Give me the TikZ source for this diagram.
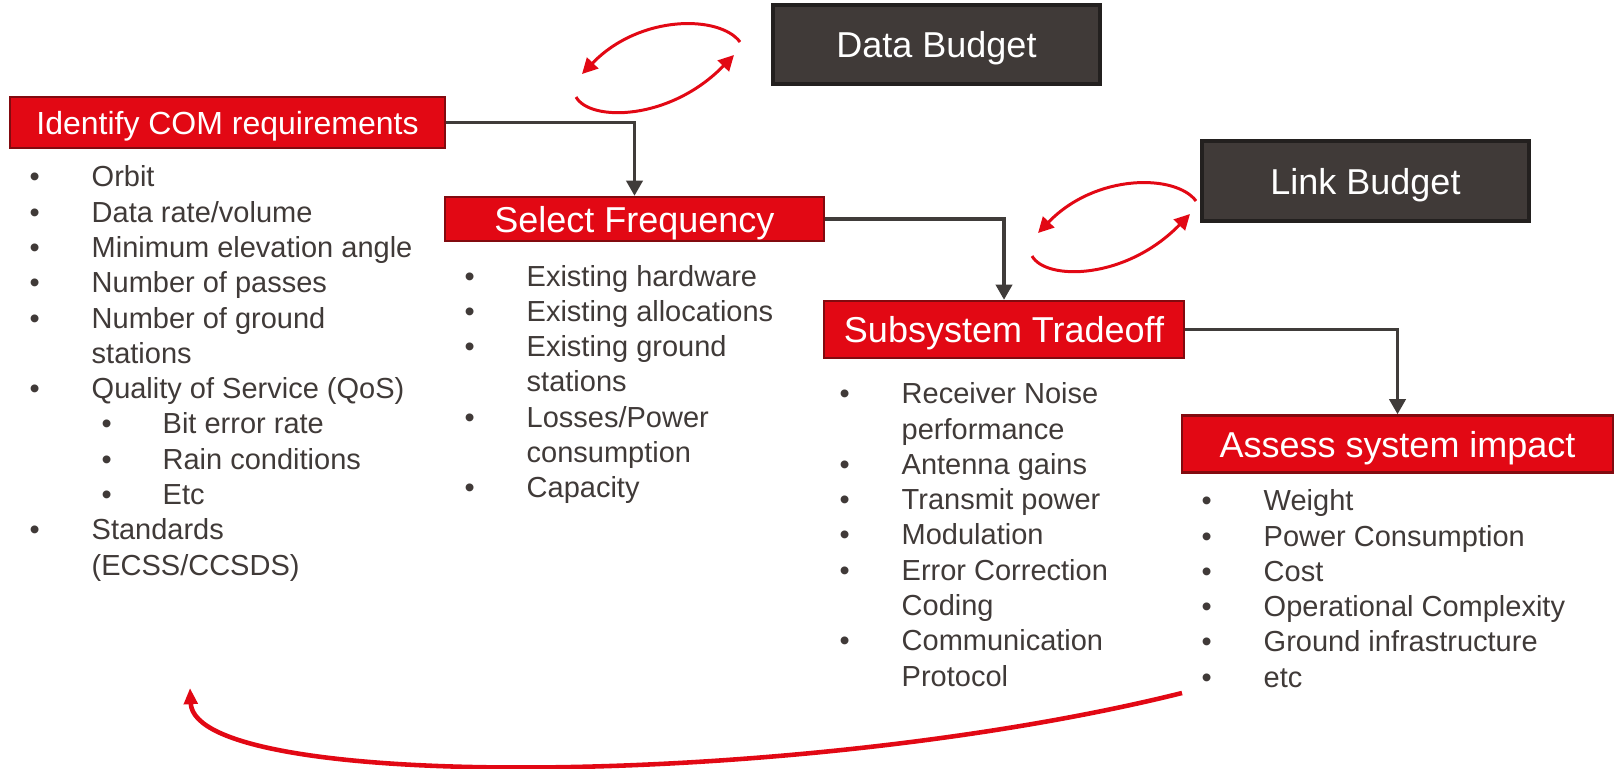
\documentclass[tikz,border=0pt]{standalone}
\usepackage{fontspec}
\setmainfont{Liberation Sans}
\usepackage{tikz}
\usetikzlibrary{arrows.meta}

\definecolor{comred}{RGB}{226,8,20}
\definecolor{darkred}{RGB}{130,10,15}
\definecolor{boxgrey}{RGB}{64,58,56}
\definecolor{boxedge}{RGB}{35,32,31}
\definecolor{txtgrey}{RGB}{64,58,56}
\definecolor{linegrey}{RGB}{64,60,58}

\newcommand{\bul}{\strut\makebox[0.62cm][l]{\textbullet}}
\newcommand{\bulgap}{\strut\hspace*{0.62cm}}
\newcommand{\subbul}{\strut\hspace*{0.72cm}\makebox[0.61cm][l]{\textbullet}}

\begin{document}
\begin{tikzpicture}[
    redbox/.style={draw=darkred, line width=0.7pt, fill=comred, text=white, inner sep=0pt,
        text depth=0pt, font=\fontsize{10.24}{12}\selectfont},
    greybox/.style={draw=boxedge, line width=0.9pt, fill=boxgrey, text=white, inner sep=0pt,
        text depth=0pt, font=\fontsize{10.24}{12}\selectfont},
    itemlist/.style={anchor=north west, inner sep=0pt, align=left, text=txtgrey,
        font=\fontsize{8.25}{10.04}\selectfont},
    flow/.style={draw=linegrey, line width=0.95pt, -{Triangle[length=4.3pt,width=4.6pt]}},
    redarc/.style={draw=comred, line width=0.85pt, -{Triangle[length=4.4pt,width=4.4pt]}}
]
    \useasboundingbox (0,0) rectangle (16.15,-7.68);

    % budget boxes
    \node[greybox, minimum width=3.27cm, minimum height=0.79cm] (data) at (9.365,-0.445) {Data Budget};
    \node[greybox, minimum width=3.27cm, minimum height=0.80cm] (link) at (13.655,-1.81) {Link Budget};

    % steps
    \node[redbox, minimum width=4.35cm, minimum height=0.51cm, font=\fontsize{9.1}{11}\selectfont] (ident) at (2.275,-1.225) {Identify COM requirements};
    \node[redbox, minimum width=3.79cm, minimum height=0.44cm] (sel) at (6.345,-2.19) {Select Frequency};
    \node[redbox, minimum width=3.60cm, minimum height=0.57cm] (sub) at (10.04,-3.295) {Subsystem Tradeoff};
    \node[redbox, minimum width=4.31cm, minimum height=0.57cm] (assess) at (13.975,-4.44) {Assess system impact};

    % bullet lists
    \node[itemlist] (identlist) at (0.29,-1.615) {\bul Orbit\\
        \bul Data rate/volume\\
        \bul Minimum elevation angle\\
        \bul Number of passes\\
        \bul Number of ground\\
        \bulgap stations\\
        \bul Quality of Service (QoS)\\
        \subbul Bit error rate\\
        \subbul Rain conditions\\
        \subbul Etc\\
        \bul Standards\\
        \bulgap (ECSS/CCSDS)};
    \node[itemlist] (sellist) at (4.64,-2.607) {\bul Existing hardware\\
        \bul Existing allocations\\
        \bul Existing ground\\
        \bulgap stations\\
        \bul Losses/Power\\
        \bulgap consumption\\
        \bul Capacity};
    \node[itemlist] (sublist) at (8.39,-3.783) {\bul Receiver Noise\\
        \bulgap performance\\
        \bul Antenna gains\\
        \bul Transmit power\\
        \bul Modulation\\
        \bul Error Correction\\
        \bulgap Coding\\
        \bul Communication\\
        \bulgap Protocol};
    \node[itemlist] (assesslist) at (12.01,-4.853) {\bul Weight\\
        \bul Power Consumption\\
        \bul Cost\\
        \bul Operational Complexity\\
        \bul Ground infrastructure\\
        \bul etc};

    % flow between steps
    \draw[flow] (ident.east) -| (sel.north);
    \draw[flow] (sel.east) -| (sub.north);
    \draw[flow] (sub.east) -| (assess.north);

    % iteration arrows
    \coordinate (da) at (7.40,-0.42);
    \coordinate (db) at (5.82,-0.74);
    \coordinate (dc) at (5.76,-0.97);
    \coordinate (dd) at (7.34,-0.55);
    \draw[redarc] (da) .. controls (7.20,-0.15) and (6.40,-0.14) .. (db);
    \draw[redarc] (dc) .. controls (5.90,-1.22) and (6.70,-1.21) .. (dd);

    \coordinate (la) at (11.96,-2.01);
    \coordinate (lb) at (10.38,-2.33);
    \coordinate (lc) at (10.32,-2.56);
    \coordinate (ld) at (11.90,-2.14);
    \draw[redarc] (la) .. controls (11.76,-1.74) and (10.96,-1.73) .. (lb);
    \draw[redarc] (lc) .. controls (10.46,-2.81) and (11.26,-2.80) .. (ld);

    % back to the start
    \coordinate (ba) at (11.82,-6.93);
    \coordinate (bb) at (1.90,-6.88);
    \draw[redarc, line width=1.3pt, -{Triangle[length=4.6pt,width=3.8pt]}] (ba) .. controls (8.00,-7.88) and (1.95,-7.93) .. (bb);

\end{tikzpicture}
\end{document}
